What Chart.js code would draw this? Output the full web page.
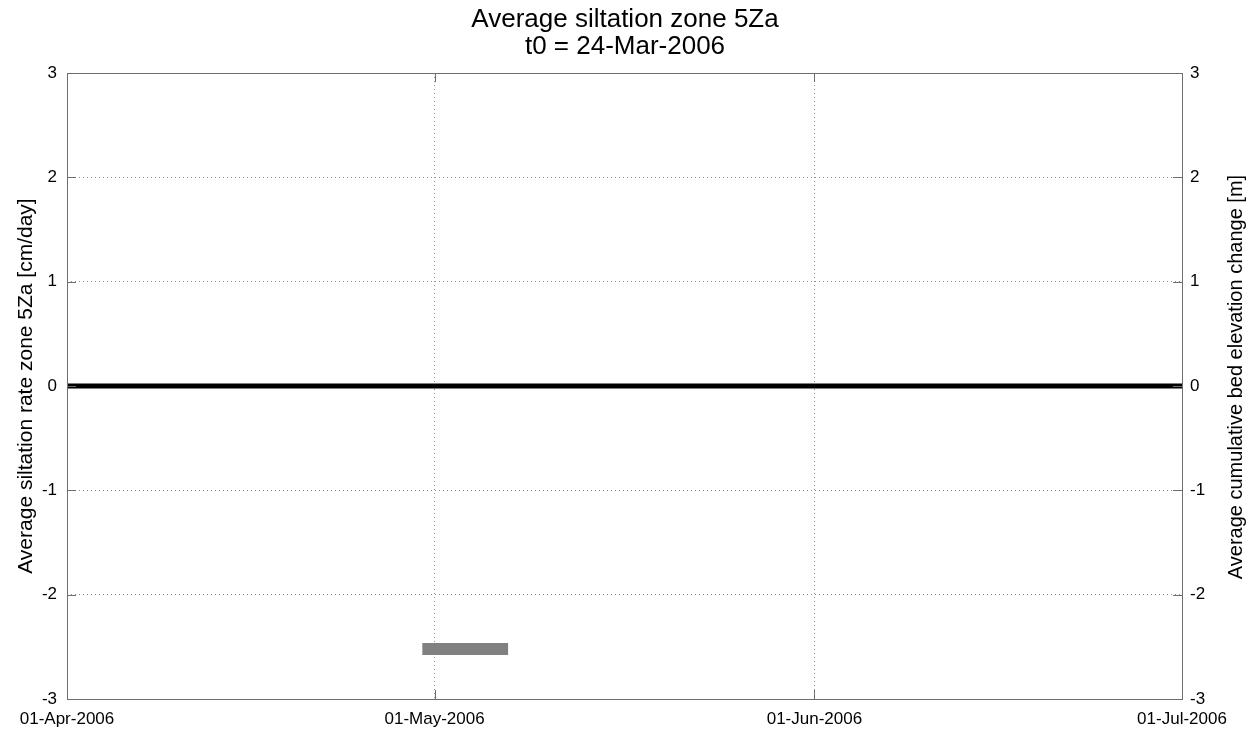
<!DOCTYPE html>
<html>
<head>
<meta charset="utf-8">
<title>Average siltation zone 5Za</title>
<script src="https://cdn.jsdelivr.net/npm/chart.js@4.4.0/dist/chart.umd.min.js"></script>
<style>
  body { margin: 0; background: #fff; }
  canvas { display: block; }
</style>
</head>
<body>
<canvas id="siltChart" width="1250" height="731"></canvas>
<script>
// x values are days since 01-Apr-2006
var xTickDays = [0, 30, 61, 91];
var xTickLabels = ['01-Apr-2006', '01-May-2006', '01-Jun-2006', '01-Jul-2006'];
var yTicks = [-3, -2, -1, 0, 1, 2, 3];

// cumulative bed elevation change (right axis) - flat at zero
var cumDays = [0, 91];
var cumValues = [0, 0];

// siltation rate for one period (left axis)
var rateDays = [29, 36];
var rateValues = [-2.52, -2.52];

var FONT = 'Liberation Sans, Arial, sans-serif';

function toPoints(xs, ys) {
    return xs.map(function (x, i) { return { x: x, y: ys[i] }; });
}

// box round the plot, inward tick marks, right hand axis title
var axesFrame = {
    id: 'axesFrame',
    afterDatasetsDraw: function (chart) {
        var ctx = chart.ctx;
        var a = chart.chartArea;
        var xs = chart.scales.x;
        var ys = chart.scales.y;
        ctx.save();
        ctx.strokeStyle = '#6e6e6e';
        ctx.lineWidth = 1;
        ctx.beginPath();
        xTickDays.forEach(function (d) {
            var px = Math.round(xs.getPixelForValue(d)) + 0.5;
            ctx.moveTo(px, a.bottom); ctx.lineTo(px, a.bottom - 9);
            ctx.moveTo(px, a.top); ctx.lineTo(px, a.top + 9);
        });
        yTicks.forEach(function (v) {
            var py = Math.round(ys.getPixelForValue(v)) + 0.5;
            ctx.moveTo(a.left, py); ctx.lineTo(a.left + 9, py);
            ctx.moveTo(a.right, py); ctx.lineTo(a.right - 9, py);
        });
        ctx.stroke();
        ctx.strokeRect(Math.round(a.left) + 0.5, Math.round(a.top) + 0.5,
            Math.round(a.right - a.left), Math.round(a.bottom - a.top));
        ctx.restore();

        ctx.save();
        ctx.fillStyle = '#000';
        ctx.font = '20px ' + FONT;
        ctx.textAlign = 'center';
        ctx.textBaseline = 'middle';
        ctx.translate(1236, (a.top + a.bottom) / 2 - 9);
        ctx.rotate(-Math.PI / 2);
        ctx.fillText('Average cumulative bed elevation change [m]', 0, 0);
        ctx.restore();
    }
};

var ctx = document.getElementById('siltChart').getContext('2d');

new Chart(ctx, {
    type: 'line',
    data: {
        datasets: [{
            label: 'cumulative',
            data: toPoints(cumDays, cumValues),
            yAxisID: 'y2',
            borderColor: '#000',
            borderWidth: 5,
            pointRadius: 0,
            borderCapStyle: 'butt'
        }, {
            label: 'rate',
            data: toPoints(rateDays, rateValues),
            yAxisID: 'y',
            borderColor: '#808080',
            borderWidth: 12,
            pointRadius: 0,
            borderCapStyle: 'butt'
        }]
    },
    options: {
        responsive: false,
        animation: false,
        layout: { padding: 0 },
        plugins: {
            legend: { display: false },
            tooltip: { enabled: false },
            title: {
                display: true,
                text: ['Average siltation zone 5Za', 't0 = 24-Mar-2006'],
                color: '#000',
                font: { family: FONT, size: 26, weight: 'normal', lineHeight: 1.04 },
                padding: { top: 6, bottom: 13 }
            }
        },
        scales: {
            x: {
                type: 'linear',
                min: 0,
                max: 91,
                afterBuildTicks: function (scale) {
                    scale.ticks = xTickDays.map(function (d) { return { value: d }; });
                },
                afterFit: function (scale) { scale.height = 32; },
                ticks: {
                    autoSkip: false,
                    maxRotation: 0,
                    padding: 10,
                    color: '#000',
                    font: { family: FONT, size: 17 },
                    callback: function (value) {
                        return xTickLabels[xTickDays.indexOf(value)];
                    }
                },
                grid: {
                    color: '#8c8c8c',
                    drawTicks: false
                },
                border: { display: false, dash: [1, 3] }
            },
            y: {
                position: 'left',
                min: -3,
                max: 3,
                afterBuildTicks: function (scale) {
                    scale.ticks = yTicks.map(function (v) { return { value: v }; });
                },
                afterFit: function (scale) { scale.width = 67; },
                ticks: {
                    padding: 10,
                    color: '#000',
                    font: { family: FONT, size: 17 }
                },
                grid: {
                    color: '#8c8c8c',
                    drawTicks: false
                },
                border: { display: false, dash: [1, 3] },
                title: {
                    display: true,
                    text: 'Average siltation rate zone 5Za [cm/day]',
                    color: '#000',
                    font: { family: FONT, size: 21 },
                    padding: { top: 14, bottom: 0 }
                }
            },
            y2: {
                position: 'right',
                min: -3,
                max: 3,
                afterBuildTicks: function (scale) {
                    scale.ticks = yTicks.map(function (v) { return { value: v }; });
                },
                afterFit: function (scale) { scale.width = 68; },
                ticks: {
                    padding: 8,
                    color: '#000',
                    font: { family: FONT, size: 17 }
                },
                grid: { display: false, drawTicks: false },
                border: { display: false }
            }
        }
    },
    plugins: [axesFrame]
});
</script>
</body>
</html>
